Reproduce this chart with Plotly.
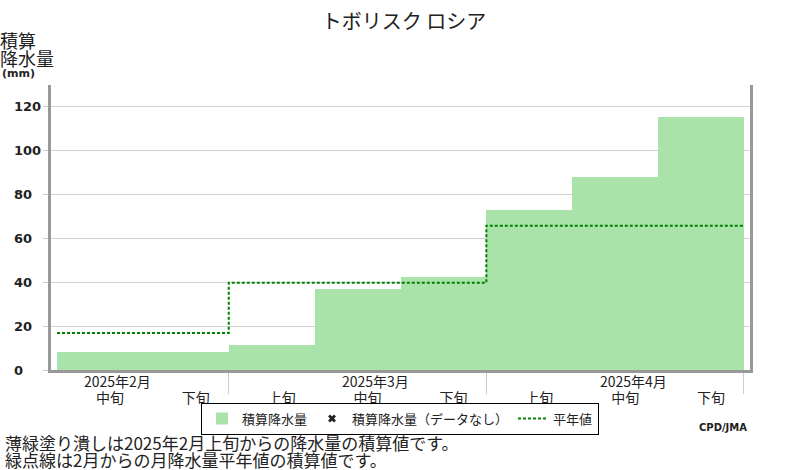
import plotly.graph_objects as go

# dekads shown on the x axis (Feb 中旬 .. Apr 下旬)
dekadLabels = ["中旬", "下旬", "上旬", "中旬", "下旬", "上旬", "中旬", "下旬"]
monthLabels = {0: "2025年2月", 3: "2025年3月", 6: "2025年4月"}
monthBounds = [1.5, 4.5, 7.5]

# cumulative precipitation (mm) and cumulative monthly normal (mm)
cumPrecip = [8.2, 8.2, 11.3, 36.9, 42.4, 73.0, 88.1, 115.5]
cumNormal = [16.9, 16.9, 39.8, 39.8, 39.8, 65.8, 65.8, 65.8]

yTicks = [0, 20, 40, 60, 80, 100, 120]

footnotes = ["薄緑塗り潰しは2025年2月上旬からの降水量の積算値です。",
             "緑点線は2月からの月降水量平年値の積算値です。"]

jpFont = "Noto Sans CJK JP"
numFont = "DejaVu Sans"

# plot area in pixels, used for paper coords of text
left, right, top, bottom = 51, 50, 85, 100
plotW = 800 - left - right
plotH = 470 - top - bottom

def px(x):
    return (x - left) / plotW

def py(y):
    return (470 - bottom - y) / plotH

idx = list(range(len(cumPrecip)))

fig = go.Figure()

# cumulative precipitation bars:
fig.add_trace(go.Bar(x = idx, y = cumPrecip, width = 1, name = "積算降水量",
                     marker = dict(color = "#aae3aa", line = dict(width = 0))))

# legend-only entry for missing data:
fig.add_trace(go.Scatter(x = [None], y = [None], mode = "markers", name = "積算降水量（データなし）",
                         marker = dict(symbol = "x", size = 7, color = "#222222", line = dict(width = 0))))

# normal line, stepped on dekad edges:
edges = [i - 0.5 for i in idx] + [idx[-1] + 0.5]
fig.add_trace(go.Scatter(x = edges, y = cumNormal + [cumNormal[-1]], mode = "lines", name = "平年値",
                         line = dict(color = "#008000", width = 2, dash = "3px,2px", shape = "hv")))

fig.update_xaxes(range = [-0.57, 7.57], tickvals = idx, ticktext = dekadLabels, ticks = "",
                 tickfont = dict(family = jpFont, size = 14, color = "#222222"), ticklabelshift = 10,
                 ticklabelstandoff = 13, automargin = False,
                 showline = True, linecolor = "#999999", linewidth = 3, showgrid = False, zeroline = False,
                 minor = dict(tickvals = monthBounds, ticks = "outside", ticklen = 21,
                              tickcolor = "#cccccc", tickwidth = 1, showgrid = False))

fig.update_yaxes(range = [0, 130], tickvals = yTicks, showticklabels = False, ticks = "outside",
                 ticklen = 5, tickcolor = "#cccccc", showgrid = True, gridcolor = "#d0d0d0",
                 gridwidth = 1, zeroline = False, showline = True, linecolor = "#999999",
                 linewidth = 3, mirror = True, automargin = False)

annotations = []

# month labels above the dekad labels:
for i, label in monthLabels.items():
    annotations.append(dict(text = label, xref = "x", yref = "paper", x = i, y = py(381), xshift = 18,
                            xanchor = "center", yanchor = "middle", showarrow = False,
                            font = dict(family = jpFont, size = 14, color = "#222222")))

# y tick labels, left-aligned:
for v in yTicks:
    annotations.append(dict(text = "<b>%d</b>" % v, xref = "paper", yref = "y", x = px(12), y = v,
                            xanchor = "left", yanchor = "middle", showarrow = False,
                            font = dict(family = numFont, size = 13, color = "#222222")))

# y axis title:
for text, yc in [("積算", 40), ("降水量", 58)]:
    annotations.append(dict(text = text, xref = "paper", yref = "paper", x = px(-2), y = py(yc),
                            xanchor = "left", yanchor = "middle", showarrow = False,
                            font = dict(family = jpFont, size = 18, color = "#222222")))
annotations.append(dict(text = "<b>(mm)</b>", xref = "paper", yref = "paper", x = px(0), y = py(73),
                        xanchor = "left", yanchor = "middle", showarrow = False,
                        font = dict(family = numFont, size = 11, color = "#222222")))

# footnotes:
for text, yc in zip(footnotes, [442.5, 459.5]):
    annotations.append(dict(text = text, xref = "paper", yref = "paper", x = px(3), y = py(yc),
                            xanchor = "left", yanchor = "middle", showarrow = False,
                            font = dict(family = jpFont, size = 17, color = "#222222")))
annotations.append(dict(text = "<b>CPD/JMA</b>", xref = "paper", yref = "paper", x = px(749), y = py(427),
                        xanchor = "right", yanchor = "middle", showarrow = False,
                        font = dict(family = numFont, size = 10, color = "#222222")))

fig.update_layout(width = 800, height = 470,
                  margin = dict(l = left, r = right, t = top, b = bottom, autoexpand = False),
                  paper_bgcolor = "white", plot_bgcolor = "white", bargap = 0,
                  title = dict(text = "トボリスク ロシア", x = 0.505, xanchor = "center", y = 1 - 22 / 470,
                               yanchor = "middle", font = dict(family = jpFont, size = 20, color = "#222222")),
                  showlegend = True,
                  legend = dict(orientation = "h", x = px(400), xanchor = "center", y = py(402.5), yanchor = "top",
                                bordercolor = "black", borderwidth = 1, itemwidth = 30,
                                font = dict(family = jpFont, size = 13, color = "#222222"),
                                tracegroupgap = 0, traceorder = "normal"),
                  annotations = annotations)

# drop the page's default body margin so the figure sits at the window's corner
fig.write_html("out.html", config = dict(displayModeBar = False),
               post_script = "document.body.style.margin='0';document.body.style.overflow='hidden';")
